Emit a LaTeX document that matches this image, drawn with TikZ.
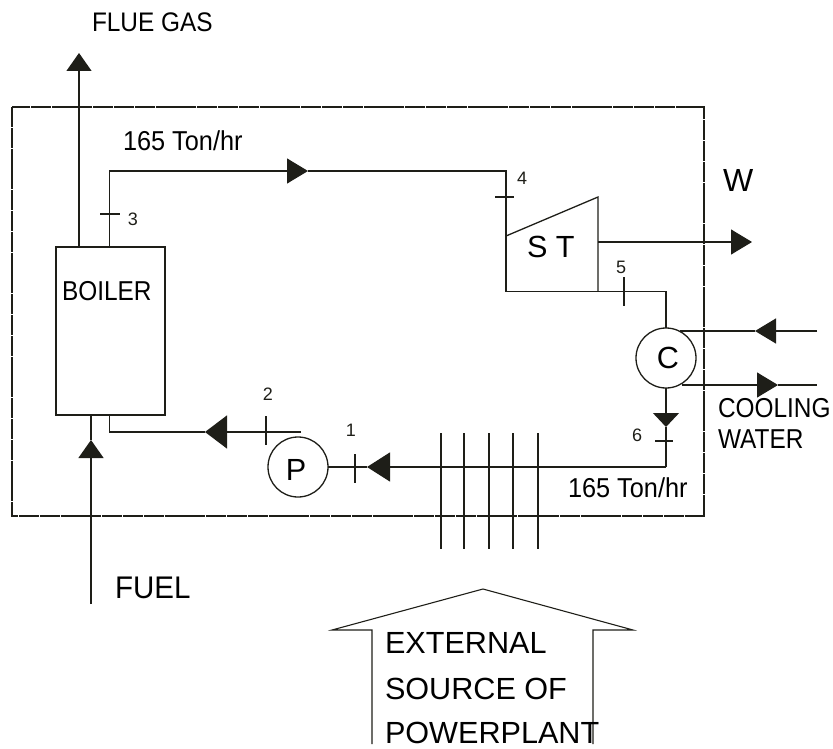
\documentclass[tikz,border=0pt]{standalone}
\usepackage{fontspec}
\setmainfont{Liberation Sans}
\usetikzlibrary{arrows.meta}
\definecolor{ink}{RGB}{30,30,24}
\newcommand{\fsz}[1]{\fontsize{#1}{#1}\selectfont}
\newcommand{\tall}[2]{\scalebox{1}[#1]{#2}}
\tikzset{
  line/.style={draw=ink,line width=1.3pt},
  thinline/.style={draw=ink,line width=1.1pt},
  envelope/.style={draw=ink,line width=1.2pt,dash pattern=on 20pt off 0.8pt},
  flow/.style={line,-{Triangle[length=21pt,width=25pt]}},
  flowtall/.style={line,-{Triangle[length=22pt,width=33pt]}},
  flowpump/.style={line,-{Triangle[length=23pt,width=29pt]}},
  flowup/.style={line,-{Triangle[length=18pt,width=25pt]}},
  flowdown/.style={line,-{Triangle[length=14pt,width=26pt]}},
  unit/.style={line,inner sep=0pt,outer sep=0pt},
  roundunit/.style={unit,circle,minimum size=60pt},
  label/.style={inner sep=0pt,outer sep=0pt,anchor=base west,text=black},
  big/.style={label,font=\fsz{30.6}},
  mid/.style={label,font=\fsz{24.4}},
  statenum/.style={inner sep=0pt,outer sep=0pt,text=ink,font=\fsz{18}}
}
\begin{document}
\begin{tikzpicture}[x=1pt,y=-1pt]
\useasboundingbox (0,0) rectangle (833,749);
% system envelope
\draw[envelope] (12,107) rectangle (704,516);
% units
\node[unit,draw,minimum width=109pt,minimum height=168pt] (boiler) at (110.5,331) {};
\node[roundunit,draw] (cond) at (666,358) {};
\node[roundunit,draw] (pump) at (298,467) {};
\coordinate (tIn) at (506,236);
\coordinate (tTop) at (598,197);
\coordinate (tBase) at (598,291.5);
\coordinate (tCorner) at (506,291.5);
\draw[line,line join=miter] (tIn) -- (tTop) -- (tBase);
% main loop
\coordinate (lpTL) at (109.5,171);
\coordinate (arA) at (308,171);
\coordinate (lpTR) at (506,171);
\coordinate (lpBR) at (666,467);
\coordinate (arB) at (666,427);
\coordinate (arC) at (367,467);
\coordinate (pOut) at (301,432);
\coordinate (arD) at (205,432);
\coordinate (lpBL) at (109.5,432);
\draw[flow] (lpTL |- boiler.north) -- (lpTL) -- (arA);
\draw[line] (arA) -- (lpTR) -- (tCorner) -- (tBase) -| (cond.north);
\draw[flowdown] (cond.south) -- (arB);
\draw[line] (arB) -- (lpBR);
\draw[flowpump] (lpBR) -- (arC);
\draw[line] (arC) -- (pump.east);
\draw[flowtall] (pOut) -- (arD);
\draw[line] (arD) -- (lpBL) -- (lpBL |- boiler.south);
% flue and fuel
\coordinate (flueTip) at (79,53);
\coordinate (fuelEnd) at (91,604);
\coordinate (fuelTip) at (91,440);
\draw[flowup] (flueTip |- boiler.north) -- (flueTip);
\draw[flowup] (fuelEnd) -- (fuelTip);
\draw[line] (fuelTip) -- (fuelTip |- boiler.south);
% work out
\coordinate (wStart) at (598,242);
\coordinate (wTip) at (752,242);
\draw[flow] (wStart) -- (wTip);
% cooling water
\coordinate (cwA) at (817,331);
\coordinate (cwATip) at (755,331);
\coordinate (cwAEnd) at (680,331);
\coordinate (cwB) at (682,385);
\coordinate (cwBTip) at (778,385);
\coordinate (cwBEnd) at (817,385);
\draw[flow] (cwA) -- (cwATip);
\draw[line] (cwATip) -- (cwAEnd);
\draw[flow] (cwB) -- (cwBTip);
\draw[line] (cwBTip) -- (cwBEnd);
% heat-exchange lines
\foreach \hx in {441,464,489,513,538}{
  \draw[thinline] (\hx,433) -- (\hx,549);
}
% state ticks
\draw[thinline] (100,214) -- (120,214);
\draw[thinline] (495,197) -- (514,197);
\draw[thinline] (624,277) -- (624,306);
\draw[thinline] (655,441) -- (673,441);
\draw[thinline] (355,454) -- (355,483);
\draw[thinline] (266,416) -- (266,445);
% external source
\coordinate (h1) at (372,744);
\coordinate (h2) at (372,630);
\coordinate (h3) at (332,630);
\coordinate (h4) at (483,589);
\coordinate (h5) at (633,630);
\coordinate (h6) at (593,630);
\coordinate (h7) at (593,744);
\draw[thinline,line join=miter] (h1) -- (h2) -- (h3) -- (h4) -- (h5) -- (h6) -- (h7);
% texts
\node[mid] (tFlue) at (92,32) {\tall{1.1}{FLUE GAS}};
\node[label,font=\fsz{25.3}] (tRate1) at (123,151) {\tall{1.08}{165 Ton/hr}};
\node[label,font=\fsz{25.3}] (tRate2) at (568,497) {\tall{1.08}{165 Ton/hr}};
\node[mid] (tBoiler) at (62,300) {\tall{1.12}{BOILER}};
\node[label,font=\fsz{29.5}] (tFuel) at (115,598) {\tall{1.06}{FUEL}};
\node[label,font=\fsz{32}] (tW) at (723,191) {W};
\node[big] (tST) at (527,257) {S T};
\node[big,anchor=center] (tC) at (668,358) {C};
\node[big,anchor=center] (tP) at (296,470) {P};
\node[mid] (tCool) at (718,417) {\tall{1.12}{COOLING}};
\node[mid] (tWater) at (718,448) {\tall{1.12}{WATER}};
\node[big] (tExt) at (385,653) {EXTERNAL};
\node[big] (tSrc) at (385,699) {SOURCE OF};
\node[big] (tPow) at (385,743) {POWERPLANT};
\node[statenum] (n1) at (351,430) {1};
\node[statenum] (n2) at (268,394) {2};
\node[statenum] (n3) at (133,219) {3};
\node[statenum] (n4) at (522,178) {4};
\node[statenum] (n5) at (621,267) {5};
\node[statenum] (n6) at (637,435) {6};
\end{tikzpicture}
\end{document}
